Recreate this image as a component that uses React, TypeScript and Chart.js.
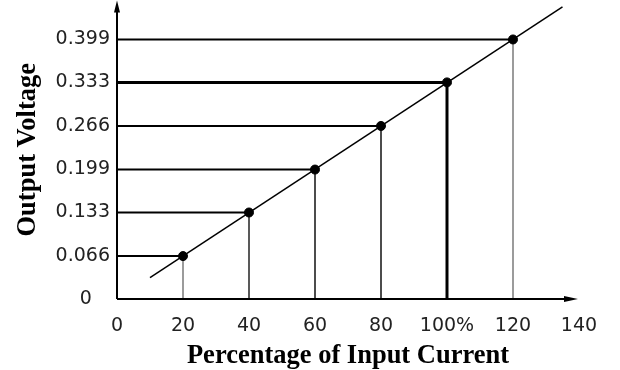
import React, { useEffect, useRef } from "react";
import { Chart, registerables } from "chart.js";

Chart.register(...registerables);

// ---- data ----
const xTickValues = [0, 20, 40, 60, 80, 100, 120, 140];
const xTickLabels = ["0", "20", "40", "60", "80", "100%", "120", "140"];
const yTickValues = [0, 0.066, 0.133, 0.199, 0.266, 0.333, 0.399];
const yTickLabels = ["0", "0.066", "0.133", "0.199", "0.266", "0.333", "0.399"];
const percent = [20, 40, 60, 80, 100, 120];
const voltage = [0.066, 0.133, 0.199, 0.266, 0.333, 0.399];
const fitLineX = [10, 135];
const fitLineY = [0.033, 0.449];
const xTitle = "Percentage of Input Current";
const yTitle = "Output Voltage";

// ---- styles ----
const hLineWidths = [2, 2, 2, 2, 3, 2];
const vLineWidths = [1.5, 1.5, 1.5, 1.5, 3, 1.5];
const vLineColors = ["#7a7a7a", "#222", "#111", "#111", "#000", "#7a7a7a"];
const tickFont = { family: "'DejaVu Sans', sans-serif", size: 19 };
const titleFont = { family: "'Liberation Serif', serif", size: 26.5, weight: "bold" as const };

const arrowAxes = {
  id: "arrowAxes",
  afterDatasetsDraw(chart: any) {
    const { ctx, chartArea, scales } = chart;
    const x = scales.x;
    const y = scales.y;
    const ox = x.getPixelForValue(0);
    const oy = y.getPixelForValue(0);
    const xEnd = chartArea.right - 1;
    const yEnd = chartArea.top;
    ctx.save();
    ctx.strokeStyle = "#000";
    ctx.fillStyle = "#000";
    ctx.lineWidth = 2;
    ctx.beginPath();
    ctx.moveTo(ox, oy);
    ctx.lineTo(xEnd - 8, oy);
    ctx.moveTo(ox, oy);
    ctx.lineTo(ox, yEnd + 8);
    ctx.stroke();
    ctx.beginPath();
    ctx.moveTo(xEnd, oy);
    ctx.lineTo(xEnd - 14, oy - 3);
    ctx.lineTo(xEnd - 14, oy + 3);
    ctx.closePath();
    ctx.fill();
    ctx.beginPath();
    ctx.moveTo(ox, yEnd);
    ctx.lineTo(ox - 3, yEnd + 12);
    ctx.lineTo(ox + 3, yEnd + 12);
    ctx.closePath();
    ctx.fill();
    ctx.restore();
  },
};

export default function App() {
  const ref = useRef<HTMLCanvasElement>(null);

  useEffect(() => {
    if (!ref.current) return;
    const datasets: any[] = [];
    datasets.push({
      label: "points",
      data: percent.map((p, i) => ({ x: p, y: voltage[i] })),
      backgroundColor: "#000",
      borderColor: "#000",
      pointRadius: 4.5,
      pointHoverRadius: 4.5,
      showLine: false,
      order: 0,
    });
    datasets.push({
      label: "fit",
      data: fitLineX.map((v, i) => ({ x: v, y: fitLineY[i] })),
      borderColor: "#000",
      borderWidth: 1.5,
      pointRadius: 0,
      showLine: true,
      order: 1,
    });
    percent.forEach((p, i) => {
      datasets.push({
        label: "h" + i,
        data: [
          { x: 0, y: voltage[i] },
          { x: p, y: voltage[i] },
        ],
        borderColor: "#000",
        borderWidth: hLineWidths[i],
        pointRadius: 0,
        showLine: true,
        order: 2,
      });
      datasets.push({
        label: "v" + i,
        data: [
          { x: p, y: voltage[i] },
          { x: p, y: 0 },
        ],
        borderColor: vLineColors[i],
        borderWidth: vLineWidths[i],
        pointRadius: 0,
        showLine: true,
        order: 2,
      });
    });

    const chart = new Chart(ref.current, {
      type: "scatter",
      data: { datasets },
      plugins: [arrowAxes],
      options: {
        responsive: false,
        animation: false,
        layout: { padding: { left: 0, right: 41, top: 0, bottom: 0 } },
        plugins: { legend: { display: false }, tooltip: { enabled: false } },
        scales: {
          x: {
            type: "linear",
            min: 0,
            max: 140,
            grid: { display: false, drawTicks: false },
            border: { display: false },
            afterFit(scale: any) {
              scale.height = 71;
              scale.paddingLeft = 0;
              scale.paddingRight = 0;
            },
            afterBuildTicks(scale: any) {
              scale.ticks = xTickValues.map((v) => ({ value: v }));
            },
            ticks: {
              padding: 16,
              color: "#222",
              font: tickFont,
              maxRotation: 0,
              autoSkip: false,
              callback: (v: any) => xTickLabels[xTickValues.indexOf(Number(v))] ?? "",
            },
            title: {
              display: true,
              text: xTitle,
              color: "#000",
              font: titleFont,
              padding: { top: 0, bottom: -2 },
            },
          },
          y: {
            type: "linear",
            min: 0,
            max: 0.4589,
            grid: { display: false, drawTicks: false },
            border: { display: false },
            afterFit(scale: any) {
              scale.width = 117;
              scale.paddingTop = 0;
              scale.paddingBottom = 0;
            },
            afterBuildTicks(scale: any) {
              scale.ticks = yTickValues.map((v) => ({ value: v }));
            },
            ticks: {
              padding: 7,
              color: "#222",
              font: tickFont,
              autoSkip: false,
              callback: (v: any) => {
                const i = yTickValues.indexOf(Number(v));
                const s = yTickLabels[i] ?? "";
                return i === 0 ? s + "   " : s;
              },
            },
            title: {
              display: true,
              text: yTitle,
              color: "#000",
              font: titleFont,
              padding: { top: 12, bottom: 0 },
            },
          },
        },
      },
    });
    return () => chart.destroy();
  }, []);

  return (
    <div style={{ position: "fixed", left: 0, top: -5, width: 620, height: 375, background: "#fff" }}>
      <canvas ref={ref} width={620} height={375} style={{ width: 620, height: 375, display: "block" }} />
    </div>
  );
}
